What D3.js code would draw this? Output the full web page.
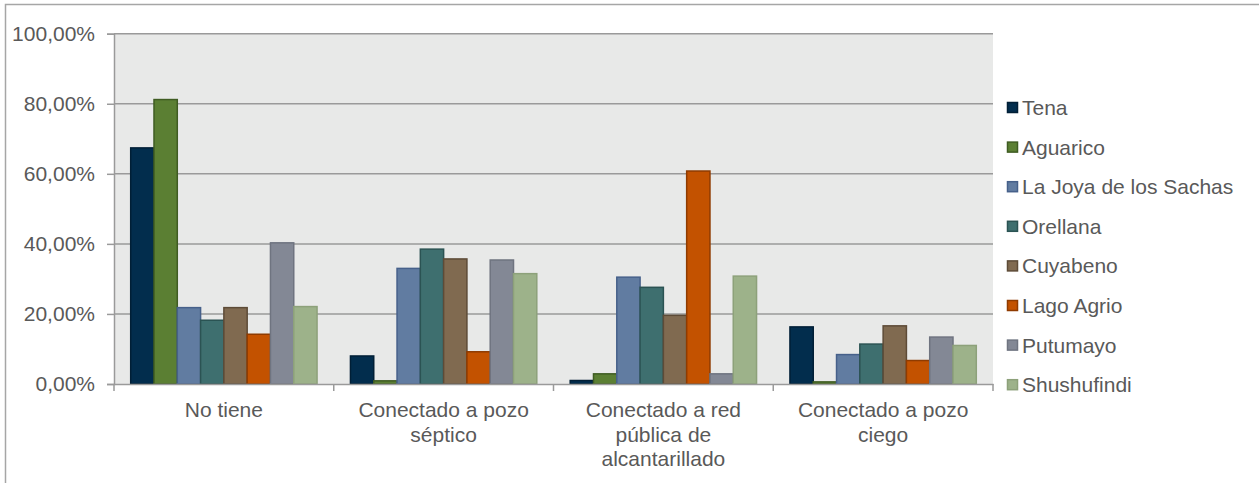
<!DOCTYPE html>
<html>
<head>
<meta charset="utf-8">
<script src="https://cdn.jsdelivr.net/npm/d3@7/dist/d3.min.js"></script>
<style>
  body { margin: 0; background: #fff; }
  text { font-family: Arial, "Liberation Sans", sans-serif; fill: #595959; }
</style>
</head>
<body>
<svg width="1259" height="483"></svg>
<script>
var categories = ["No tiene", "Conectado a pozo séptico", "Conectado a red pública de alcantarillado", "Conectado a pozo ciego"];
var seriesNames = ["Tena", "Aguarico", "La Joya de los Sachas", "Orellana", "Cuyabeno", "Lago Agrio", "Putumayo", "Shushufindi"];
// percent per series, one value per category
var tena        = [67.4, 8.0, 1.0, 16.3];
var aguarico    = [81.2, 0.9, 2.9, 0.6];
var laJoya      = [21.8, 33.0, 30.5, 8.4];
var orellana    = [18.2, 38.5, 27.6, 11.4];
var cuyabeno    = [21.8, 35.7, 19.6, 16.6];
var lagoAgrio   = [14.2, 9.2, 60.8, 6.7];
var putumayo    = [40.3, 35.4, 2.9, 13.4];
var shushufindi = [22.1, 31.5, 30.8, 11.0];
var yTicks = [0, 20, 40, 60, 80, 100];

var seriesValues = [tena, aguarico, laJoya, orellana, cuyabeno, lagoAgrio, putumayo, shushufindi];
var fills   = ["#022d4d", "#5b7f33", "#617ca1", "#3e6f6f", "#806a50", "#c35200", "#838895", "#9db28a"];
var strokes = ["#011f36", "#3f5c22", "#46608a", "#2b5353", "#5d4b37", "#8f3b00", "#6f7480", "#8da17a"];

var svg = d3.select("svg");

// outer frame (cut off at right and bottom)
svg.append("rect").attr("x", 5.5).attr("y", 4.5).attr("width", 1300).attr("height", 600)
    .attr("fill", "none").attr("stroke", "#a6a6a6").attr("stroke-width", 1.5);

var xScale = d3.scaleBand().domain(categories).range([114, 993]);
var inner = d3.scaleBand().domain(seriesNames)
    .range([16.7, xScale.bandwidth() - 16.7]);
var yScale = d3.scaleLinear().domain([0, 100]).range([384, 33.7]);

svg.append("rect").attr("x", 114).attr("y", yScale(100)).attr("width", 993 - 114)
    .attr("height", yScale(0) - yScale(100)).attr("fill", "#e8e9e8");

var yAxis = d3.axisLeft(yScale).tickValues(yTicks).tickSize(7).tickPadding(12)
    .tickFormat(function (d) { return d.toFixed(2).replace(".", ",") + "%"; });
var yAxisG = svg.append("g").attr("id", "yAxisG").attr("transform", "translate(114,0)").call(yAxis);
yAxisG.select(".domain").attr("stroke", "#9a9a9a").attr("stroke-width", 1.5);
yAxisG.selectAll(".tick line").attr("stroke", "#9a9a9a").attr("stroke-width", 1.5);
yAxisG.selectAll(".tick text").style("font-size", "21px").attr("fill", "#595959");

// gridlines
svg.selectAll("line.grid").data(yTicks.filter(function (d) { return d > 0; })).enter().append("line")
    .attr("class", "grid").attr("x1", 114).attr("x2", 993)
    .attr("y1", function (d) { return yScale(d); }).attr("y2", function (d) { return yScale(d); })
    .attr("stroke", "#9a9a9a").attr("stroke-width", 1.5);

// bars
var groups = svg.selectAll("g.cat").data(categories).enter().append("g").attr("class", "cat")
    .attr("transform", function (d) { return "translate(" + xScale(d) + ",0)"; });
groups.selectAll("rect").data(function (c, ci) {
    return seriesNames.map(function (s, si) { return { s: s, i: si, v: seriesValues[si][ci] }; });
}).enter().append("rect")
    .attr("x", function (d) { return inner(d.s); })
    .attr("width", inner.bandwidth())
    .attr("y", function (d) { return yScale(d.v); })
    .attr("height", function (d) { return yScale(0) - yScale(d.v); })
    .attr("fill", function (d) { return fills[d.i]; })
    .attr("stroke", function (d) { return strokes[d.i]; })
    .attr("stroke-width", 1.5);

// x axis
var xAxis = d3.axisBottom(xScale).tickSize(0).tickPadding(0).tickFormat("");
var xAxisG = svg.append("g").attr("id", "xAxisG").attr("transform", "translate(0,384)").call(xAxis);
xAxisG.select(".domain").attr("stroke", "#9a9a9a").attr("stroke-width", 1.5);
var edges = categories.map(function (c) { return xScale(c); }).concat([993]);
xAxisG.selectAll("line.edge").data(edges).enter().append("line").attr("class", "edge")
    .attr("x1", function (d) { return d; }).attr("x2", function (d) { return d; })
    .attr("y1", 0).attr("y2", 7).attr("stroke", "#9a9a9a").attr("stroke-width", 1.5);

var labels = svg.selectAll("text.xlab").data(categories).enter().append("text").attr("class", "xlab")
    .attr("text-anchor", "middle").style("font-size", "21px")
    .attr("x", function (d) { return xScale(d) + xScale.bandwidth() / 2; });
labels.each(function (d) {
    var t = d3.select(this), words = d.split(" "), lines = [], line = [];
    var probe = t.append("tspan");
    words.forEach(function (w) {
        line.push(w);
        probe.text(line.join(" "));
        if (probe.node().getComputedTextLength() > 205 && line.length > 1) {
            line.pop(); lines.push(line.join(" ")); line = [w];
        }
    });
    lines.push(line.join(" "));
    probe.remove();
    lines.forEach(function (l, i) {
        t.append("tspan").attr("x", xScale(d) + xScale.bandwidth() / 2)
            .attr("y", 417 + i * 24.5).text(l);
    });
});

// legend
var legend = svg.selectAll("g.legend").data(seriesNames).enter().append("g").attr("class", "legend")
    .attr("transform", function (d, i) { return "translate(1007," + (107.5 + i * 39.6) + ")"; });
legend.append("rect").attr("x", 0.5).attr("y", -5).attr("width", 10).attr("height", 10)
    .attr("fill", function (d, i) { return fills[i]; })
    .attr("stroke", function (d, i) { return strokes[i]; }).attr("stroke-width", 1.5);
legend.append("text").attr("x", 15).attr("y", 7.5).style("font-size", "21px").text(function (d) { return d; });
</script>
</body>
</html>
